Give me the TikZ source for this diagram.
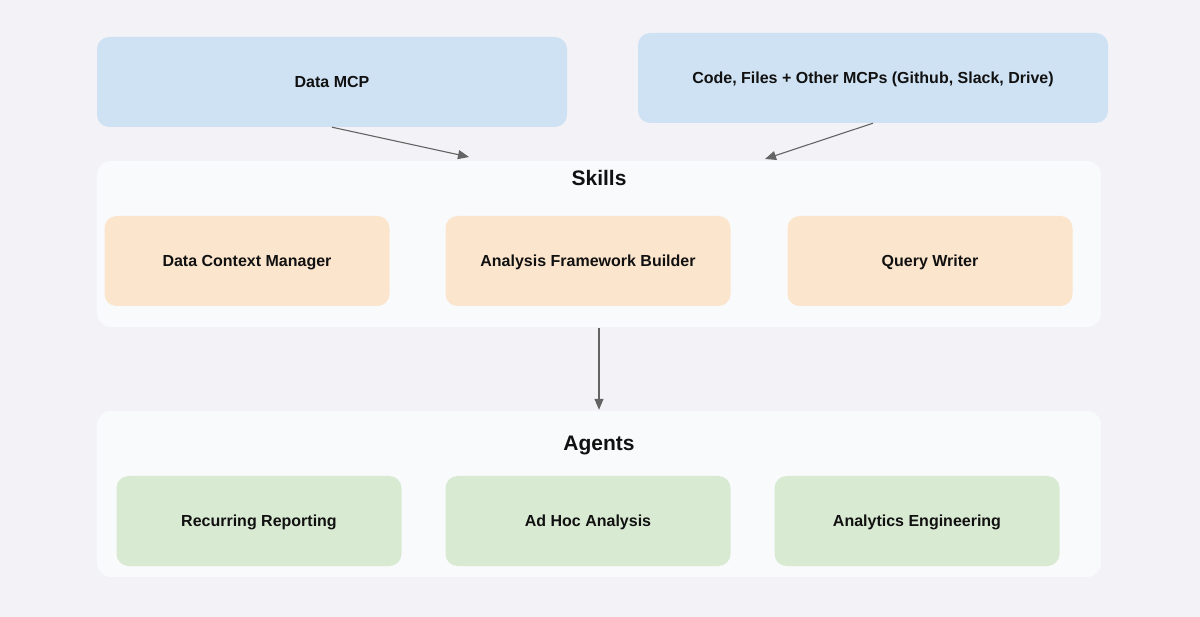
\documentclass[tikz,border=0pt]{standalone}
\usepackage{fontspec}
\setmainfont{Liberation Sans}
\usetikzlibrary{positioning, arrows.meta}
\definecolor{bgcol}{HTML}{F3F3F7}
\definecolor{mcpcol}{HTML}{CFE2F3}
\definecolor{skillcol}{HTML}{FCE5CD}
\definecolor{agentcol}{HTML}{D9EAD3}
\definecolor{groupcol}{HTML}{F9FAFC}
\definecolor{linecol}{HTML}{646464}
\definecolor{textcol}{HTML}{111111}

\begin{document}
\begin{tikzpicture}[
    x=1pt, y=-1pt,
    group/.style={rectangle, rounded corners=14pt, minimum width=1004pt,
                  minimum height=166pt, fill=groupcol, inner sep=0pt},
    source/.style={rectangle, rounded corners=12pt, minimum width=470pt,
                   minimum height=90pt, fill=mcpcol, align=center,
                   text height=11.5pt, text depth=0pt,
                   font=\fontsize{16}{19}\selectfont\bfseries, text=textcol},
    skill/.style={source, minimum width=285pt, fill=skillcol},
    agent/.style={skill, fill=agentcol},
    title/.style={font=\fontsize{21}{25}\selectfont\bfseries, text=textcol,
                  text height=15pt, text depth=0pt},
    arrow/.style={-{Triangle[length=11pt, width=9pt]}, linecol, line width=1.1pt}
]

\fill[bgcol] (0,0) rectangle (1200,617);
\useasboundingbox (0,0) rectangle (1200,617);

% sources on top
\node[source] (datamcp) at (332,82) {Data MCP};
\node[source] (othermcp) at (873,78) {Code, Files + Other MCPs (Github, Slack, Drive)};

% skills
\node[group] (skills) at (599,244) {};
\node[title] (skillstitle) at (599,178) {Skills};
\node[skill] (context) at (247,261) {Data Context Manager};
\node[skill] (framework) at (588,261) {Analysis Framework Builder};
\node[skill] (query) at (930,261) {Query Writer};

% agents
\node[group] (agents) at (599,494) {};
\node[title] (agentstitle) at (599,443) {Agents};
\node[agent] (reporting) at (259,521) {Recurring Reporting};
\node[agent] (adhoc) at (588,521) {Ad Hoc Analysis};
\node[agent] (engineering) at (917,521) {Analytics Engineering};

\coordinate (datain) at (469,157);
\coordinate (otherin) at (765,159);

\draw[arrow] (datamcp.south) -- (datain);
\draw[arrow] (othermcp.south) -- (otherin);
\draw[arrow, shorten <=1pt, shorten >=1pt] (skills.south) -- (agents.north);

\end{tikzpicture}
\end{document}
